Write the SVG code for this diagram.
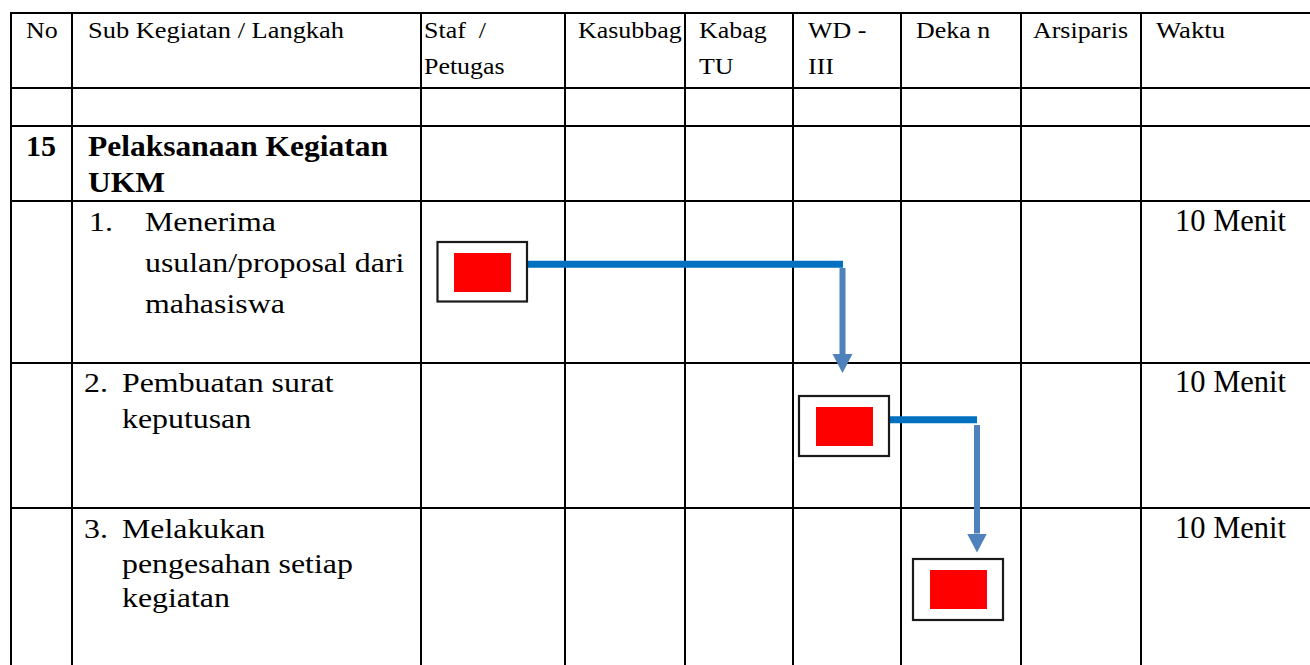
<svg xmlns="http://www.w3.org/2000/svg" width="1310" height="665" viewBox="0 0 1310 665">
  <style>
    .grid line { stroke: #000; stroke-width: 2; }
    text { font-family: "Liberation Serif", "Times New Roman", serif; fill: #000; }
    .hd { font-size: 24px; }
    .bd { font-size: 27px; }
    .bb { font-size: 30px; font-weight: bold; }
    .wk { font-size: 30.5px; }
    .frame { fill: #fff; stroke: #1a1a1a; stroke-width: 2.2; }
    .core { fill: #ff0000; }
    .flow-h { stroke: #0070c0; stroke-width: 7; fill: none; }
    .flow-v { stroke: #4f81bd; stroke-width: 6; fill: none; }
  </style>
  <defs>
    <marker id="head" markerUnits="userSpaceOnUse" markerWidth="20" markerHeight="22" viewBox="0 -11 20 22" refX="0" refY="0" orient="auto">
      <path d="M0,-10 L19,0 L0,10 Z" fill="#4f81bd"/>
    </marker>
  </defs>

  <rect width="1310" height="665" fill="#fff"/>

  <!-- table grid -->
  <g class="grid">
    <line x1="11" y1="13" x2="1310" y2="13"/>
    <line x1="11" y1="88" x2="1310" y2="88"/>
    <line x1="11" y1="126" x2="1310" y2="126"/>
    <line x1="11" y1="201" x2="1310" y2="201"/>
    <line x1="11" y1="363" x2="1310" y2="363"/>
    <line x1="11" y1="508" x2="1310" y2="508"/>
    <line x1="11" y1="12" x2="11" y2="665"/>
    <line x1="72" y1="12" x2="72" y2="665"/>
    <line x1="421" y1="12" x2="421" y2="665"/>
    <line x1="565" y1="12" x2="565" y2="665"/>
    <line x1="685" y1="12" x2="685" y2="665"/>
    <line x1="793" y1="12" x2="793" y2="665"/>
    <line x1="901" y1="12" x2="901" y2="665"/>
    <line x1="1021" y1="12" x2="1021" y2="665"/>
    <line x1="1141" y1="12" x2="1141" y2="665"/>
  </g>

  <!-- header row (text widened to the printed column widths) -->
  <g id="header">
    <text class="hd" x="26" y="38" textLength="31.7" lengthAdjust="spacingAndGlyphs">No</text>
    <text class="hd" x="88" y="38" textLength="256" lengthAdjust="spacingAndGlyphs">Sub Kegiatan / Langkah</text>
    <text class="hd" x="424" y="38" textLength="62" lengthAdjust="spacingAndGlyphs">Staf&#160; /</text>
    <text class="hd" x="424" y="74" textLength="80.6" lengthAdjust="spacingAndGlyphs">Petugas</text>
    <text class="hd" x="578" y="38" textLength="103.7" lengthAdjust="spacingAndGlyphs">Kasubbag</text>
    <text class="hd" x="699" y="38" textLength="67.7" lengthAdjust="spacingAndGlyphs">Kabag</text>
    <text class="hd" x="699" y="74" textLength="34.6" lengthAdjust="spacingAndGlyphs">TU</text>
    <text class="hd" x="808" y="38" textLength="58.3" lengthAdjust="spacingAndGlyphs">WD -</text>
    <text class="hd" x="808" y="74" textLength="25.9" lengthAdjust="spacingAndGlyphs">III</text>
    <text class="hd" x="916" y="38" textLength="74.1" lengthAdjust="spacingAndGlyphs">Deka n</text>
    <text class="hd" x="1033" y="38" textLength="95" lengthAdjust="spacingAndGlyphs">Arsiparis</text>
    <text class="hd" x="1156" y="38" textLength="69.1" lengthAdjust="spacingAndGlyphs">Waktu</text>
  </g>

  <!-- activity title -->
  <g id="activity">
    <text class="bb" x="26" y="156">15</text>
    <text class="bb" x="88" y="156" textLength="300" lengthAdjust="spacingAndGlyphs">Pelaksanaan Kegiatan</text>
    <text class="bb" x="88" y="192" textLength="77" lengthAdjust="spacingAndGlyphs">UKM</text>
  </g>

  <!-- step texts -->
  <g id="step1-text">
    <text class="bd" x="89" y="231" textLength="23.9" lengthAdjust="spacingAndGlyphs">1.</text>
    <text class="bd" x="145" y="231" textLength="130.9" lengthAdjust="spacingAndGlyphs">Menerima</text>
    <text class="bd" x="145" y="272" textLength="259.3" lengthAdjust="spacingAndGlyphs">usulan/proposal dari</text>
    <text class="bd" x="145" y="313" textLength="139.8" lengthAdjust="spacingAndGlyphs">mahasiswa</text>
    <text class="wk" x="1175" y="231">10 Menit</text>
  </g>
  <g id="step2-text">
    <text class="bd" x="84" y="392" textLength="23.9" lengthAdjust="spacingAndGlyphs">2.</text>
    <text class="bd" x="122" y="392" textLength="211.5" lengthAdjust="spacingAndGlyphs">Pembuatan surat</text>
    <text class="bd" x="122" y="428" textLength="129.2" lengthAdjust="spacingAndGlyphs">keputusan</text>
    <text class="wk" x="1175" y="392">10 Menit</text>
  </g>
  <g id="step3-text">
    <text class="bd" x="84" y="538" textLength="23.9" lengthAdjust="spacingAndGlyphs">3.</text>
    <text class="bd" x="122" y="538" textLength="143.3" lengthAdjust="spacingAndGlyphs">Melakukan</text>
    <text class="bd" x="122" y="573" textLength="230.9" lengthAdjust="spacingAndGlyphs">pengesahan setiap</text>
    <text class="bd" x="122" y="607" textLength="107.9" lengthAdjust="spacingAndGlyphs">kegiatan</text>
    <text class="wk" x="1175" y="538">10 Menit</text>
  </g>

  <!-- connectors -->
  <g id="connectors">
    <line class="flow-h" x1="527" y1="264.2" x2="843" y2="264.2"/>
    <line class="flow-v" x1="842.5" y1="268" x2="842.5" y2="354" marker-end="url(#head)"/>
    <line class="flow-h" x1="889" y1="419.7" x2="977" y2="419.7"/>
    <line class="flow-v" x1="977" y1="425" x2="977" y2="533.5" marker-end="url(#head)"/>
  </g>

  <!-- process boxes -->
  <g id="box-staf">
    <rect class="frame" x="437.5" y="242" width="89.5" height="59.5"/>
    <rect class="core" x="454" y="253" width="57" height="39"/>
  </g>
  <g id="box-wd3">
    <rect class="frame" x="799" y="396" width="90" height="60"/>
    <rect class="core" x="816" y="407" width="57" height="39"/>
  </g>
  <g id="box-dekan">
    <rect class="frame" x="913" y="559" width="90" height="61"/>
    <rect class="core" x="930" y="570" width="57" height="39"/>
  </g>
</svg>
